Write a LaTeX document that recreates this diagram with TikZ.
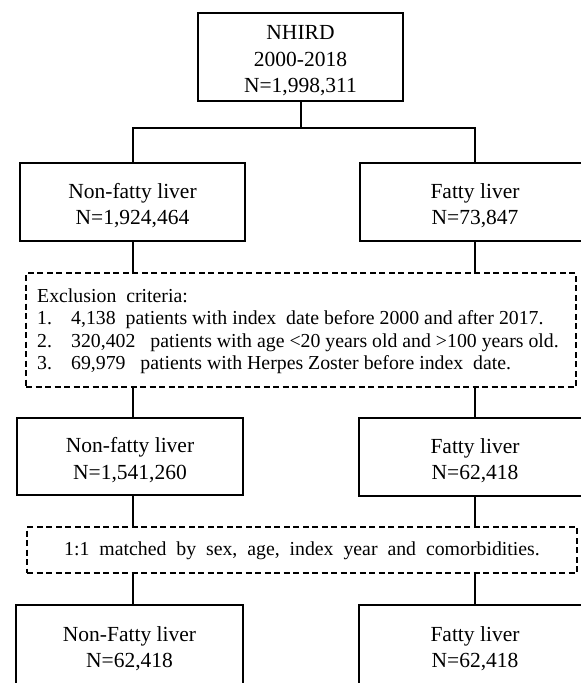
\documentclass[tikz,border=0pt]{standalone}
\usepackage{fontspec}
\setmainfont{Liberation Serif}
\begin{document}
\begin{tikzpicture}[x=1pt,y=-1pt,
  box/.style={draw=black, line width=2pt, fill=white, inner sep=0pt},
  txt/.style={align=center, inner sep=0pt, font=\fontsize{21.5}{26.5}\selectfont},
  dbox/.style={draw=black, line width=2pt, dash pattern=on 6pt off 3.5pt, fill=white, inner sep=0pt},
  conn/.style={draw=black, line width=2pt}]
\useasboundingbox (0,0) rectangle (581,683);
\clip (0,0) rectangle (581,683);
% boxes
\node[box, minimum width=205pt, minimum height=88pt] (top) at (300.5,57) {};
\node[box, minimum width=225pt, minimum height=78pt] (a1) at (132.5,202) {};
\node[box, minimum width=230pt, minimum height=78pt] (b1) at (475,202) {};
\node[dbox, minimum width=550pt, minimum height=114pt] (ex) at (301,330) {};
\node[box, minimum width=226pt, minimum height=77pt] (a2) at (130,456.5) {};
\node[box, minimum width=232pt, minimum height=78pt] (b2) at (475,457) {};
\node[dbox, minimum width=550pt, minimum height=46pt] (mt) at (302,550) {};
\node[box, minimum width=227pt, minimum height=80pt] (a3) at (129.5,645) {};
\node[box, minimum width=232pt, minimum height=80pt] (b3) at (475,645) {};
% texts
\node[txt] (topt) at ([yshift=-4pt]top.center) {NHIRD\\2000-2018\\N=1,998,311};
\node[txt] (a1t) at ([yshift=-3.5pt]a1.center) {Non-fatty liver\\N=1,924,464};
\node[txt] (b1t) at ([yshift=-3.5pt]b1.center) {Fatty liver\\N=73,847};
\node[txt] (a2t) at ([yshift=-3.5pt]a2.center) {Non-fatty liver\\N=1,541,260};
\node[txt] (b2t) at ([yshift=-3.5pt]b2.center) {Fatty liver\\N=62,418};
\node[txt] (a3t) at ([yshift=-3.5pt]a3.center) {Non-Fatty liver\\N=62,418};
\node[txt] (b3t) at ([yshift=-3.5pt]b3.center) {Fatty liver\\N=62,418};
\node[align=left, inner sep=0pt, anchor=west, font=\fontsize{19.8}{22.5}\selectfont] (ext) at ([xshift=12pt,yshift=-1pt]ex.west)
  {Exclusion\ \ criteria:\\
   \makebox[34pt][l]{1.}4,138\ \ patients with index\ \ date before 2000 and after 2017.\\
   \makebox[34pt][l]{2.}320,402\ \ \ patients with age <20 years old and >100 years old.\\
   \makebox[34pt][l]{3.}69,979\ \ \ patients with Herpes Zoster before index\ \ date.};
\node[inner sep=0pt, font=\fontsize{19.8}{22}\selectfont] (mtt) at ([yshift=-1pt]mt.center)
  {1:1\ \ matched\ \ by\ \ sex,\ \ age,\ \ index\ \ year\ \ and\ \ comorbidities.};
% connectors
\coordinate (split) at (300.5,128);
\draw[conn] (top.south) -- (split);
\draw[conn] (a1.north) |- (split) -| (b1.north);
\draw[conn] (a1.south) -- (a1.south |- ex.north);
\draw[conn] (b1.south) -- (b1.south |- ex.north);
\draw[conn] (a1.south |- ex.south) -- (a1.south |- a2.north);
\draw[conn] (b1.south |- ex.south) -- (b2.north);
\draw[conn] (a1.south |- a2.south) -- (a1.south |- mt.north);
\draw[conn] (b2.south) -- (b2.south |- mt.north);
\draw[conn] (a1.south |- mt.south) -- (a1.south |- a3.north);
\draw[conn] (b2.south |- mt.south) -- (b3.north);
\end{tikzpicture}
\end{document}
